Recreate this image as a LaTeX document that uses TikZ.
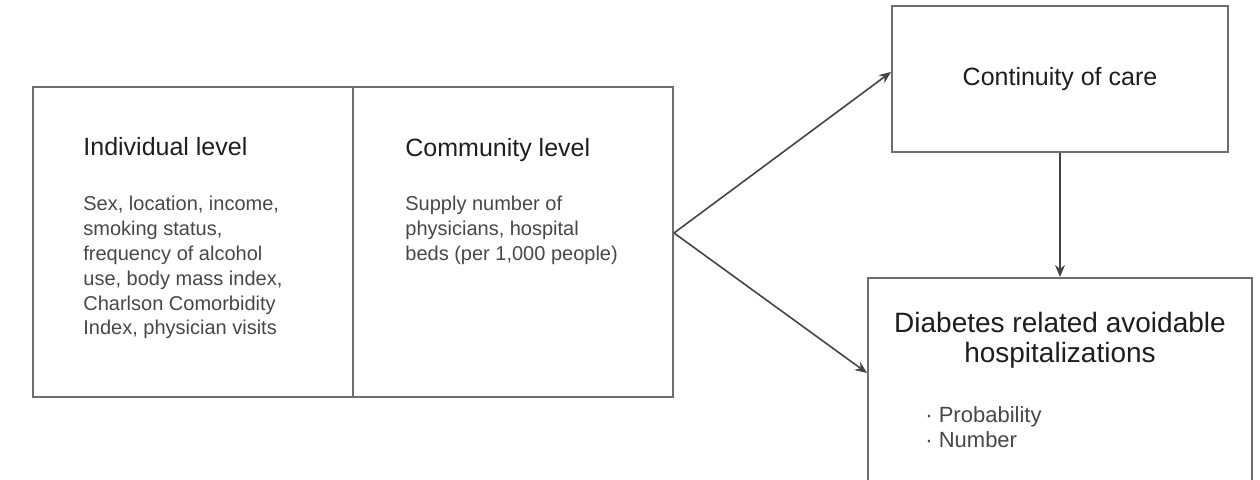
\documentclass[tikz,border=0pt]{standalone}
\usepackage{fontspec}
\setmainfont{Liberation Sans}
\usetikzlibrary{arrows.meta}
\definecolor{boxgray}{HTML}{6E6E6E}
\definecolor{arrowgray}{HTML}{444444}
\definecolor{titleblack}{HTML}{1E1E1E}
\definecolor{bodygray}{HTML}{474747}
\begin{document}
\begin{tikzpicture}[x=0.5pt, y=-0.5pt,
    box/.style={draw=boxgray, line width=1pt, rectangle, inner sep=0pt},
    title/.style={text=titleblack, inner sep=0pt, font=\fontsize{12.5pt}{15pt}\selectfont},
    body/.style={text=bodygray, inner sep=0pt, align=left, font=\fontsize{10pt}{12.4pt}\selectfont},
    link/.style={draw=arrowgray, line width=0.8pt, -{Stealth[length=6pt, width=5pt]}}]
    \useasboundingbox (0,0) rectangle (1260,480);
    \clip (0,0) rectangle (1260,480);

    % Boxes
    \node[box, minimum width=160pt, minimum height=155pt] (indiv) at (193,242) {};
    \node[box, minimum width=160pt, minimum height=155pt] (comm) at (513,242) {};
    \node[box, title, minimum width=168pt, minimum height=73pt] (cont) at (1060,79) {Continuity of care};
    \node[box, minimum width=192pt, minimum height=111pt] (diab) at (1060,389) {};

    % Texts
    \node[title, anchor=base west] (indivtitle) at (83,156) {Individual level};
    \node[body, anchor=north west] (indivbody) at (83,196) {Sex, location, income,\\smoking status,\\frequency of alcohol\\use, body mass index,\\Charlson Comorbidity\\Index, physician visits};
    \node[title, anchor=base west] (commtitle) at (405,157) {Community level};
    \node[body, anchor=north west] (commbody) at (405,196) {Supply number of\\physicians, hospital\\beds (per 1,000 people)};
    \node[title, anchor=north, align=center, font=\fontsize{14pt}{15pt}\selectfont] (diabtitle) at (1060,312) {Diabetes related avoidable\\hospitalizations};
    \node[body, anchor=north west, font=\fontsize{11pt}{12.5pt}\selectfont] (diabbody) at (925,406) {· Probability\\· Number};

    % Arrows
    \coordinate (fork) at ([yshift=4.5pt]comm.east);
    \draw[link] (fork) -- ([yshift=3.5pt]cont.west);
    \draw[link] (fork) -- ([yshift=8pt]diab.west);
    \draw[link] (cont.south) -- (diab.north);
\end{tikzpicture}
\end{document}
